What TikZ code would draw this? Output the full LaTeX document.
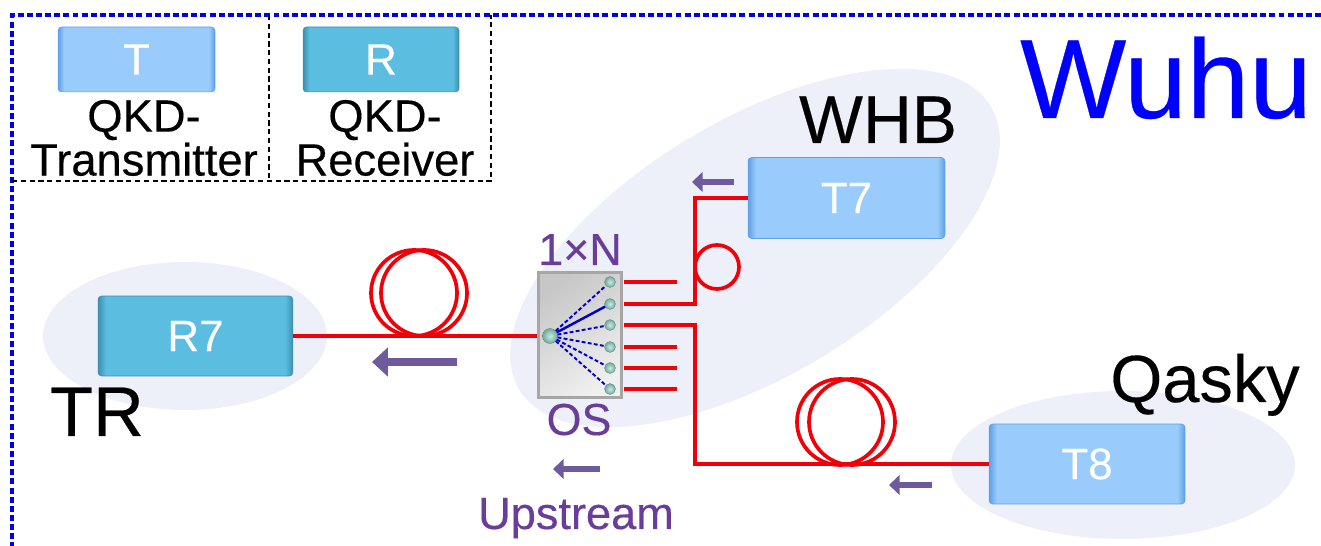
\documentclass[tikz,border=0pt]{standalone}
\usepackage{fontspec}
\setmainfont[FakeBold=0.3]{Liberation Sans}
\usetikzlibrary{arrows.meta,calc,positioning}
\definecolor{txfill}{HTML}{99CCFC}
\definecolor{txedge}{HTML}{5F9FE6}
\definecolor{rxfill}{HTML}{5BBDE0}
\definecolor{rxedge}{HTML}{3C8FB0}
\definecolor{halo}{HTML}{EDF0F9}
\definecolor{labelpurple}{HTML}{6A3D9A}
\definecolor{arrowpurple}{HTML}{6F5A9E}
\definecolor{fiberred}{HTML}{F00008}
\definecolor{portteal}{HTML}{8FD6C4}
\pgfdeclarehorizontalshading{txshade}{100bp}{color(0bp)=(txedge); color(25bp)=(txedge); color(27bp)=(txfill); color(73bp)=(txfill); color(75bp)=(txedge); color(100bp)=(txedge)}
\pgfdeclarehorizontalshading{rxshade}{100bp}{color(0bp)=(rxedge); color(25bp)=(rxedge); color(27bp)=(rxfill); color(73bp)=(rxfill); color(75bp)=(rxedge); color(100bp)=(rxedge)}
\tikzset{
  devbox/.style={rounded corners=2pt,inner sep=0pt,text=white,font=\fontsize{25}{25}\selectfont},
  txbox/.style={devbox,shading=txshade,draw=txedge,line width=0.3pt},
  rxbox/.style={devbox,shading=rxshade,draw=rxedge,line width=0.3pt},
  sitelabel/.style={inner sep=0pt,font=\fontsize{#1}{25}\selectfont},
  fiber/.style={draw=fiberred,line width=2.4pt},
  coil/.style={draw=fiberred,line width=2.1pt},
  flow/.style={draw=arrowpurple,line width=3.4pt,-{Triangle[length=6pt,width=11pt]}},
  flowbig/.style={draw=arrowpurple,line width=5pt,-{Triangle[length=9pt,width=16pt]}},
  port/.style={circle,inner sep=0pt,minimum size=6.2pt,inner color=portteal!50!white,outer color=portteal!80!black,draw=portteal!60!black,line width=0.2pt},
  link/.style={draw=blue!80!black,line width=1.1pt,dash pattern=on 2.2pt off 1.3pt},
}
\begin{document}
\begin{tikzpicture}[x=0.02cm,y=-0.02cm]
  \useasboundingbox (0,0) rectangle (1321,546);
  % halos
  \fill[halo] (185,336) ellipse (142 and 74);
  \fill[halo] (1123,465) ellipse (172 and 74);
  \fill[halo,rotate around={31:(755,248)}] (755,248) ellipse (275 and 128);
  % frames
  \draw[blue!90!black,line width=2pt,dash pattern=on 3.4pt off 1.8pt] (1321,15) -- (12,15) -- (12,546);
  \draw[black,line width=0.7pt,densely dashed] (12,181) -- (491,181) -- (491,15);
  \draw[black,line width=0.7pt,densely dashed] (269,15) -- (269,181);
  % legend
  \node[txbox,minimum width=3.14cm,minimum height=1.3cm] (legT) at (136.5,59.5) {T};
  \node[rxbox,minimum width=3.12cm,minimum height=1.3cm] (legR) at (381,59.5) {R};
  \node[sitelabel=25.8,align=center] (legTtxt) at (144,138) {QKD-\\Transmitter};
  \node[sitelabel=25.8,align=center] (legRtxt) at (385,138) {QKD-\\Receiver};
  % devices
  \node[rxbox,minimum width=3.9cm,minimum height=1.6cm] (R7) at (195.5,336) {R7};
  \node[txbox,minimum width=3.94cm,minimum height=1.62cm] (T7) at (846.5,198) {T7};
  \node[txbox,minimum width=3.92cm,minimum height=1.6cm] (T8) at (1087,464) {T8};
  % optical switch
  \node[draw=black!35,line width=1.6pt,shading=axis,left color=black!22,right color=black!6,shading angle=35,minimum width=1.66cm,minimum height=2.5cm,inner sep=0pt] (OS) at (580,335) {};
  \node[port,minimum size=8.5pt] (pin) at (550,336) {};
  \foreach \n/\yy in {1/282,2/304,3/325,4/347,5/368,6/389}{
    \coordinate (s\n) at (624,\yy);
    \node[port] (p\n) at (610,\yy) {};
  }
  \foreach \n in {1,3,4,5,6}{
    \draw[link] (pin) -- (p\n);
  }
  \draw[blue!80!black,line width=1.4pt] (pin) -- (p2);
  % fibers
  \draw[fiber] (R7.east) -- (OS.west |- pin);
  \draw[fiber] (s1) -- ++(53,0);
  \draw[fiber] (s4) -- ++(53,0);
  \draw[fiber] (s5) -- ++(53,0);
  \draw[fiber] (s6) -- ++(53,0);
  \draw[fiber] (s2) -| (695,198) -- (T7.west);
  \draw[fiber] (s3) -| (695,464) -- (T8.west);
  % coils
  \draw[coil] (414,293) circle (43);
  \draw[coil] (424,293) circle (43);
  \draw[coil] (717,267) circle (22);
  \draw[coil] (840,422) circle (43);
  \draw[coil] (852,422) circle (43);
  % direction arrows
  \draw[flowbig] (457,362) -- (372,362);
  \draw[flow] (734,182) -- (692,182);
  \draw[flow] (600,469) -- (553,469);
  \draw[flow] (932,485) -- (889,485);
  % labels
  \node[sitelabel=64,text=blue,anchor=base] (city) at (1166,118) {Wuhu};
  \node[sitelabel=38.5,anchor=base] (whb) at (878,143) {WHB};
  \node[sitelabel=40,anchor=base] (tr) at (97,436) {TR};
  \node[sitelabel=38,anchor=base] (qasky) at (1205,402) {Qasky};
  \node[sitelabel=25.5,text=labelpurple,anchor=base] (nlabel) at (580,265) {1×N};
  \node[sitelabel=25.5,text=labelpurple,anchor=base] (oslabel) at (579,435) {OS};
  \node[sitelabel=25.7,text=labelpurple,anchor=base] (up) at (576,529) {Upstream};
\end{tikzpicture}
\end{document}
